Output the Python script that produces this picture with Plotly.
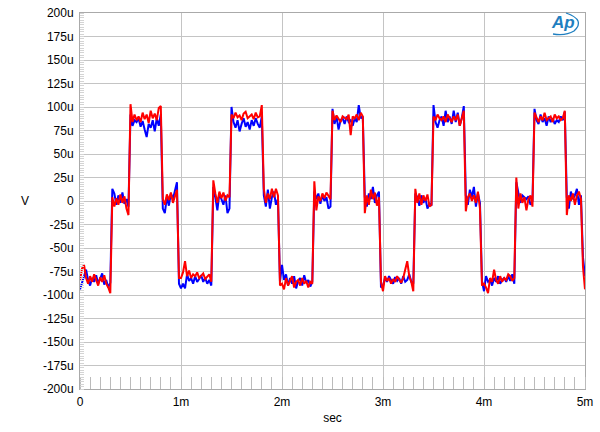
import numpy as np
import plotly.graph_objects as go

# sample spacing 0.02 ms, 0 .. 5.0 ms (values in microvolts)
dt_ms = 0.02
blue_uV = [
    # cycle 0
    -94, -88, -80, -73, -84, -90, -82, -86, -79, -88, -83, -77, -89, -84, -92, -87,
    13, 8, -4, 6, -2, 9, -3, 2, -6,
    92, 80, 86, 84, 88, 79, 85, 76, 68, 82, 78, 86, 74, 88, 80, 92,
    -8, -13, 4, -5, 8, 2, 12, 20, -88,
    # cycle 1
    -93, -88, -93, -78, -85, -82, -88, -80, -86, -83, -79, -86, -82, -88, -84, -90,
    15, 4, -10, 8, 2, -4, 6, -13, -8,
    100, 84, 78, 86, 74, 82, 88, 79, 84, 76, 86, 80, 88, 82, 78, 90,
    6, -6, 12, -8, 4, 10, -4, 2, -86,
    # cycle 2
    -68, -84, -78, -90, -82, -88, -80, -93, -85, -82, -90, -79, -87, -84, -91, -86,
    10, 2, 8, -3, 6, 0, 4, -8, -6,
    98, 82, 90, 76, 86, 88, 82, 90, 84, 86, 80, 88, 84, 102, 88, 90,
    4, -6, 8, 2, 15, -2, 6, 10, -92,
    # cycle 3
    -90, -82, -86, -80, -84, -88, -81, -85, -82, -88, -80, -86, -84, -78, -86, -88,
    8, 4, -5, 6, -2, 3, -8, -3, -5,
    102, 84, 78, 86, 90, 80, 96, 84, 90, 82, 96, 84, 94, 80, 88, 101,
    6, -4, 12, 4, 15, -6, 8, -2, -85,
    # cycle 4
    -96, -80, -86, -84, -90, -82, -86, -80, -88, -84, -82, -86, -80, -85, -78, -88,
    20, 8, -2, 6, 4, 2, 5, -4, 0,
    98, 86, 82, 92, 84, 88, 80, 90, 84, 88, 82, 86, 84, 90, 86, 95,
    4, -8, 10, 2, 6, 13, -4, 6, -60,
    # end
    -80,
]
red_uV = [
    # cycle 0
    -85, -72, -68, -82, -88, -80, -86, -78, -84, -90, -81, -86, -79, -88, -92, -98,
    4, -6, 3, -4, 7, -2, 5, -8, -15,
    103, 84, 92, 86, 90, 84, 94, 87, 92, 83, 96, 88, 93, 86, 99, 101,
    2, -4, 7, 1, 9, -2, 5, 12, -82,
    # cycle 1
    -82, -76, -64, -80, -74, -82, -78, -80, -76, -82, -79, -77, -83, -80, -78, -86,
    22, 8, -2, 10, 3, 9, 0, 6, 4,
    92, 88, 94, 89, 91, 86, 93, 95, 88, 90, 92, 87, 94, 89, 90, 102,
    13, -2, 8, 2, 13, 4, 13, 6, -90,
    # cycle 2
    -88, -94, -82, -90, -85, -80, -92, -86, -84, -90, -82, -88, -85, -92, -86, -88,
    21, -10, 5, 0, 8, 3, 9, 6, 2,
    96, 86, 91, 88, 84, 90, 88, 87, 92, 70, 90, 88, 92, 86, 94, 90,
    -13, 6, -4, 12, 2, 9, -5, 4, -86,
    # cycle 3
    -96, -80, -85, -82, -88, -83, -86, -80, -84, -87, -82, -72, -64, -80, -86, -96,
    13, -2, 8, -4, 6, 0, 7, -6, -4,
    90, 86, 92, 88, 86, 90, 84, 92, 88, 84, 90, 86, 92, 80, 88, 96,
    -11, 4, 8, 0, 6, -2, 10, -8, -90,
    # cycle 4
    -88, -92, -98, -82, -86, -73, -84, -88, -80, -86, -82, -84, -78, -80, -85, -82,
    25, -8, 8, -2, 4, -10, 2, 6, -6,
    94, 88, 84, 90, 86, 94, 86, 88, 90, 84, 92, 88, 90, 86, 88, 96,
    -15, 6, 0, 8, -4, 6, 10, 2, -70,
    # end
    -94,
]

x_tickvals = [0, 1, 2, 3, 4, 5]
x_ticktext = ["0", "1m", "2m", "3m", "4m", "5m"]
y_tickvals = list(range(-200, 201, 25))
y_ticktext = [("0" if v == 0 else f"{v}u") for v in y_tickvals]

t_ms = np.arange(len(blue_uV)) * dt_ms

fig = go.Figure()
fig.add_trace(go.Scatter(x=t_ms, y=blue_uV, mode="lines",
                         line=dict(color="#0000ff", width=2), showlegend=False))
fig.add_trace(go.Scatter(x=t_ms, y=red_uV, mode="lines",
                         line=dict(color="#ff0000", width=2), showlegend=False))

grid = "#c4c4c4"
fig.update_layout(
    width=600, height=432,
    margin=dict(l=80, r=15, t=13, b=43),
    paper_bgcolor="white", plot_bgcolor="white",
    font=dict(family="Liberation Sans, Arial, sans-serif", size=12, color="black"),
    xaxis=dict(range=[0, 5.0], tickvals=x_tickvals, ticktext=x_ticktext,
               automargin=False,
               showgrid=True, gridcolor=grid, gridwidth=1,
               zeroline=False, showline=True, linecolor="#aaaaaa", mirror=True,
               ticks="", ticklabelstandoff=2,
               minor=dict(dtick=0.1, ticks="inside", ticklen=12,
                          tickcolor="#bbbbbb", showgrid=False),
               title=dict(text="sec", standoff=5, font=dict(size=12))),
    yaxis=dict(range=[-200, 200], tickvals=y_tickvals, ticktext=y_ticktext,
               automargin=False,
               showgrid=True, gridcolor=grid, gridwidth=1,
               zeroline=False, showline=True, linecolor="#aaaaaa", mirror=True,
               ticks="", ticklabelstandoff=3,
               minor=dict(dtick=2.5, ticks="inside", ticklen=4,
                          tickcolor="#d4d4d4", showgrid=False)),
)

fig.add_annotation(text="V", xref="paper", yref="paper",
                   x=(25 - 80) / 505, y=0.5, showarrow=False,
                   font=dict(size=12), xanchor="center", yanchor="middle")
# AP logo
fig.add_annotation(text="<i><b>Ap</b></i>", xref="paper", yref="paper",
                   x=(563 - 80) / 505, y=1 - (23 - 13) / 376, showarrow=False,
                   font=dict(size=17, color="#1f7fc0", family="Liberation Sans, Arial"),
                   xanchor="center", yanchor="middle")
fig.add_shape(type="path", xref="paper", yref="paper",
              path=f"M {(566-80)/505} {1-(13-13)/376} Q {(586-80)/505} {1-(20-13)/376} {(574-80)/505} {1-(31-13)/376} "
                   f"Q {(566-80)/505} {1-(36-13)/376} {(553-80)/505} {1-(34-13)/376}",
              line=dict(color="#1f7fc0", width=1.3))

fig.write_html("out.html")
